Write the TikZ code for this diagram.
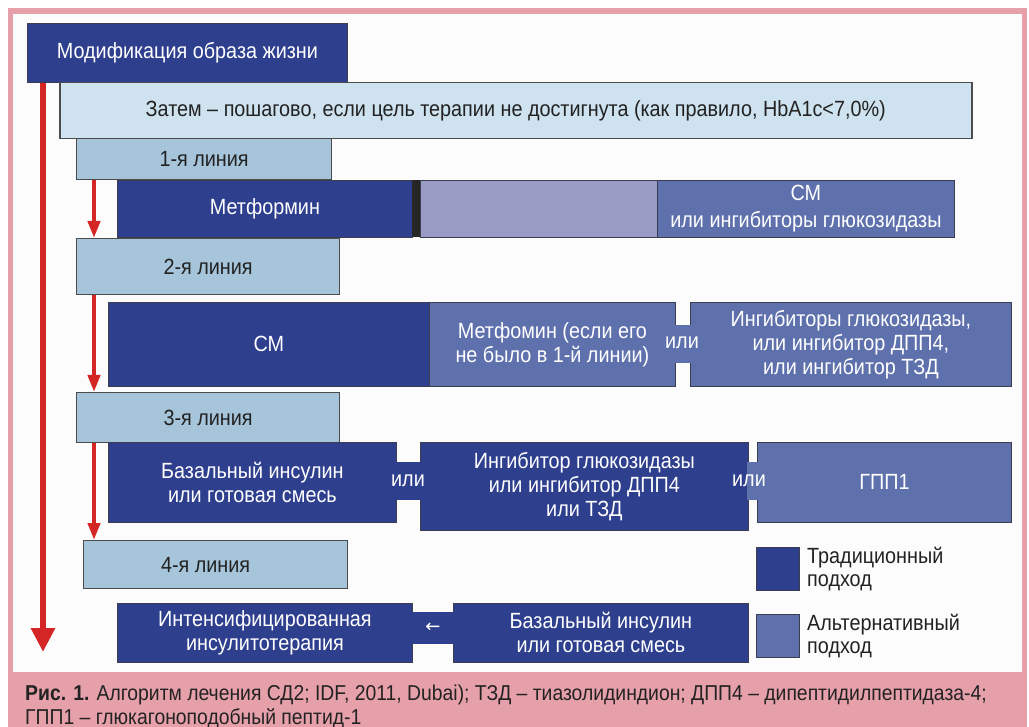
\documentclass[tikz,border=0pt]{standalone}
\usepackage{fontspec}
\setmainfont[FakeStretch=0.9]{Liberation Sans}
\newfontfamily\arrowfont{DejaVu Sans}
\usetikzlibrary{arrows.meta}
\definecolor{navy}{RGB}{46,63,142}
\definecolor{altb}{RGB}{95,113,172}
\definecolor{lav}{RGB}{152,156,196}
\definecolor{pale}{RGB}{206,226,239}
\definecolor{lineb}{RGB}{166,197,218}
\definecolor{pinkf}{RGB}{230,160,170}
\definecolor{redar}{RGB}{212,38,36}
\definecolor{txt}{RGB}{34,34,34}
\definecolor{edge}{RGB}{60,62,80}
\begin{document}
\begin{tikzpicture}[x=1pt,y=-1pt,
  box/.style={anchor=north west, inner sep=0pt, draw=edge, line width=0.8pt, align=center,
    font=\fontsize{22}{24}\selectfont},
  dark/.style={box, fill=navy, text=white},
  alt/.style={box, fill=altb, text=white},
  lbox/.style={box, fill=lineb, text=txt, draw=gray!60!black, line width=1.2pt},
  palebox/.style={box, fill=pale, text=txt, draw=gray!60!black, line width=1.5pt},
  ortext/.style={inner sep=0pt, text=white, font=\fontsize{22}{24}\selectfont},
  legtext/.style={anchor=west, inner sep=0pt, align=left, text=txt, font=\fontsize{22}{23}\selectfont},
  captext/.style={anchor=base west, inner sep=0pt, text=txt, font=\fontsize{21.5}{24}\selectfont},
  bigred/.style={draw=redar, line width=6pt, -{Triangle[width=23pt,length=24pt]}},
  smallred/.style={draw=redar, line width=4pt, -{Triangle[width=12pt,length=17pt]}}
]
\useasboundingbox (0,0) rectangle (1029,727);
% frame
\fill[white] (0,0) rectangle (1029,727);
\fill[pinkf] (8,8) rectangle (1027,727);
\fill[white!98!gray] (13,14) rectangle (1022,672);

% top
\node[dark, minimum width=320, minimum height=59] (mod) at (27,23) {Модификация образа жизни};
\node[palebox, minimum width=912, minimum height=56] (zat) at (59,82) {Затем – пошагово, если цель терапии не достигнута (как правило, HbA1c<7,0\%)};

% line boxes
\node[lbox, minimum width=255, minimum height=41] (l1) at (76,138) {1-я линия};
\node[lbox, minimum width=263, minimum height=56] (l2) at (76,238) {2-я линия};
\node[lbox, minimum width=263, minimum height=50] (l3) at (76,392) {3-я линия};
\node[lbox, minimum width=264, minimum height=48] (l4) at (83,540) {\hspace*{-20pt}4-я линия};

% row 1
\node[dark, minimum width=295, minimum height=57] (m1) at (117,180) {Метформин};
\fill[black!85] (412,180) rectangle (420,237);
\node[box, fill=lav, minimum width=237, minimum height=57] (m2) at (420,180) {};
\node[alt, minimum width=297, minimum height=57, font=\fontsize{22}{27}\selectfont] (m3) at (657,180) {СМ\\или ингибиторы глюкозидазы};

% row 2
\node[dark, minimum width=321, minimum height=84] (s1) at (108,302) {СМ};
\node[alt, minimum width=246, minimum height=84] (s2) at (429,302) {Метфомин (если его\\не было в 1-й линии)};
\node[alt, minimum width=321, minimum height=84] (s3) at (690,302) {Ингибиторы глюкозидазы,\\или ингибитор ДПП4,\\или ингибитор ТЗД};
\fill[altb] (674,325) rectangle (691,363);
\node[ortext] (or1) at (682,343) {или};

% row 3
\node[dark, minimum width=288, minimum height=80] (t1) at (108,442) {Базальный инсулин\\или готовая смесь};
\node[dark, minimum width=328, minimum height=88] (t2) at (420,442) {Ингибитор глюкозидазы\\или ингибитор ДПП4\\или ТЗД};
\node[alt, minimum width=254, minimum height=80] (t3) at (757,442) {ГПП1};
\fill[navy] (395,462) rectangle (421,500);
\fill[altb] (747,462) rectangle (758,500);
\node[ortext] (or2) at (408,481) {или};
\node[ortext] (or3) at (749,481) {или};

% row 4
\node[dark, minimum width=295, minimum height=59] (b1) at (117,603) {Интенсифицированная\\инсулитотерапия};
\node[dark, minimum width=295, minimum height=59] (b2) at (453,603) {Базальный инсулин\\или готовая смесь};
\fill[navy] (411,612) rectangle (454,644);
\node[ortext, font=\arrowfont\fontsize{18}{20}\selectfont] (arr) at (433,628) {←};

% legend
\node[box, fill=navy, minimum width=43, minimum height=43] (sq1) at (756,547) {};
\node[box, fill=altb, minimum width=43, minimum height=43] (sq2) at (756,614) {};
\node[legtext] (lg1) at (807,569) {Традиционный\\подход};
\node[legtext] (lg2) at (807,636) {Альтернативный\\подход};

% red arrows
\coordinate (bigend) at (43,652);
\draw[bigred] (mod.south west -| bigend) -- (bigend);
\coordinate (ax) at (94,0);
\draw[smallred] (l1.south -| ax) -- (l2.north -| ax);
\draw[smallred] (l2.south -| ax) -- (l3.north -| ax);
\draw[smallred] (l3.south -| ax) -- (l4.north -| ax);

% caption
\node[captext] (cap1) at (25,700) {\textbf{Рис. 1.} Алгоритм лечения СД2; IDF, 2011, Dubai); ТЗД – тиазолидиндион; ДПП4 – дипептидилпептидаза-4;};
\node[captext] (cap2) at (25,724) {ГПП1 – глюкагоноподобный пептид-1};
\end{tikzpicture}
\end{document}
